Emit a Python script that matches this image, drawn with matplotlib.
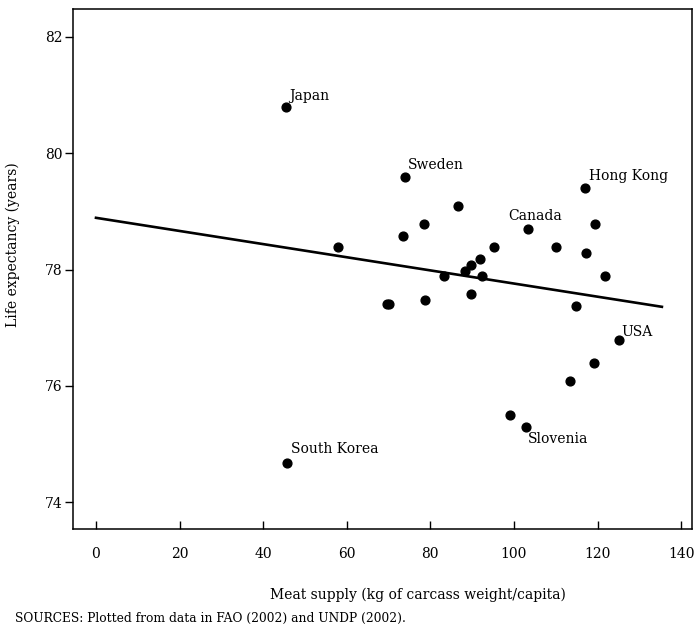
import numpy as np
import matplotlib.pyplot as plt

plt.rcParams['font.family'] = 'DejaVu Serif'
plt.rcParams['font.size'] = 10

# Data: meat supply (kg/capita) vs life expectancy (years)
meat = [45.5, 73.9, 117.0, 86.6, 78.5, 119.4, 73.4, 103.3, 57.9, 95.2,
        110.0, 117.2, 91.9, 89.7, 88.3, 92.3, 83.3, 89.7, 78.7, 69.6,
        70.1, 114.8, 121.8, 125.1, 119.1, 113.4, 99.0, 102.9, 45.7]
life = [80.8, 79.6, 79.4, 79.1, 78.78, 78.79, 78.58, 78.69, 78.39, 78.39,
        78.39, 78.29, 78.19, 78.08, 77.98, 77.89, 77.89, 77.58, 77.48, 77.4,
        77.4, 77.38, 77.89, 76.79, 76.4, 76.09, 75.5, 75.3, 74.68]

# labelled countries: (name, meat, life, offset in points, ha)
labels = [("Japan", 45.5, 80.8, (2, 8), 'left'),
          ("Sweden", 73.9, 79.6, (2, 8), 'left'),
          ("Hong Kong", 117.0, 79.4, (3, 9), 'left'),
          ("Canada", 103.3, 78.69, (-14, 10), 'left'),
          ("USA", 125.1, 76.79, (2, 6), 'left'),
          ("Slovenia", 102.9, 75.3, (1, -9), 'left'),
          ("South Korea", 45.7, 74.68, (3, 10), 'left')]

# fitted regression line (endpoints)
fit_x = [0, 135.4]
fit_y = [78.89, 77.36]

fig = plt.figure(figsize=(6.94, 6.26), dpi=100)
ax = fig.add_axes([73/694, 1-529/626, 619/694, 520/626])

ax.scatter(meat, life, s=40, color='black', zorder=3)
ax.plot(fit_x, fit_y, color='black', linewidth=1.9)

for name, x, y, off, ha in labels:
    ax.annotate(name, (x, y), xytext=off, textcoords='offset points',
                ha=ha, va='center', fontsize=10)

ax.set_xlim(-5.5, 142.6)
ax.set_ylim(73.54, 82.48)
ax.set_xticks([0, 20, 40, 60, 80, 100, 120, 140])
ax.set_yticks([74, 76, 78, 80, 82])
ax.tick_params(axis='x', direction='in', length=5.5, width=1, pad=13)
ax.tick_params(axis='y', direction='out', length=5.5, width=1, pad=2)
for sp in ax.spines.values():
    sp.set_linewidth(1.1)

ax.set_xlabel('Meat supply (kg of carcass weight/capita)')
ax.set_ylabel('Life expectancy (years)')
ax.xaxis.set_label_coords(0.557, -0.113)
ax.yaxis.set_label_coords(-0.086, 0.546)

fig.text(15/694, 1-618/626, 'SOURCES: Plotted from data in FAO (2002) and UNDP (2002).',
         fontsize=8.8, va='center', ha='left')

fig.savefig('out.png', dpi=100)
